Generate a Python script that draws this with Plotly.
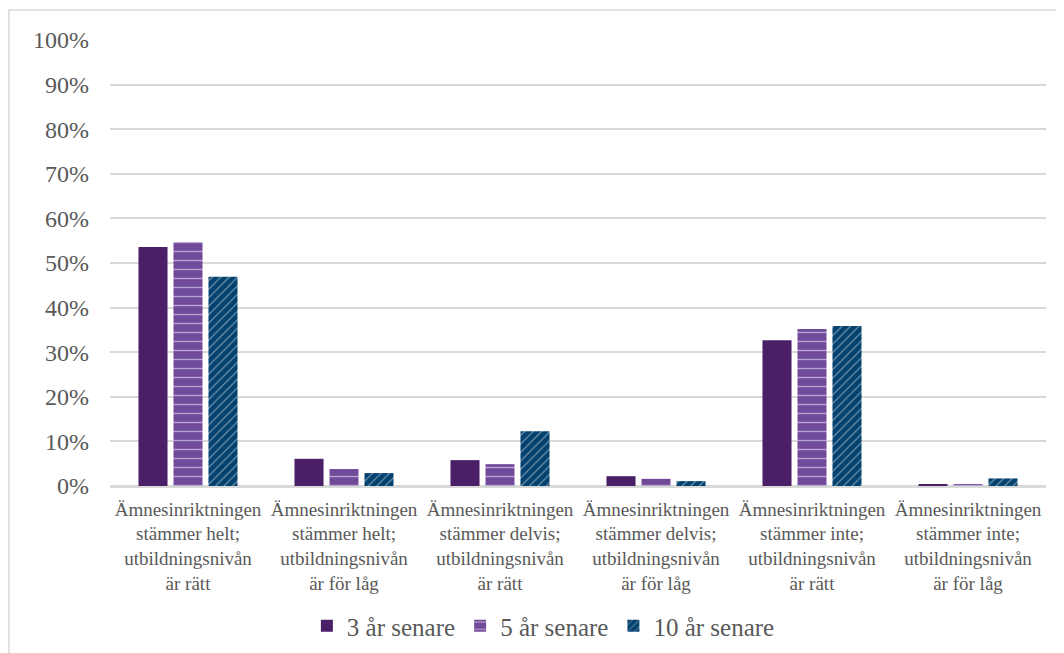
import plotly.graph_objects as go

categories = [
    "Ämnesinriktningen<br>stämmer helt;<br>utbildningsnivån<br>är rätt",
    "Ämnesinriktningen<br>stämmer helt;<br>utbildningsnivån<br>är för låg",
    "Ämnesinriktningen<br>stämmer delvis;<br>utbildningsnivån<br>är rätt",
    "Ämnesinriktningen<br>stämmer delvis;<br>utbildningsnivån<br>är för låg",
    "Ämnesinriktningen<br>stämmer inte;<br>utbildningsnivån<br>är rätt",
    "Ämnesinriktningen<br>stämmer inte;<br>utbildningsnivån<br>är för låg",
]
series_names = ["3 år senare", "5 år senare", "10 år senare"]
vals_3 = [0.536, 0.061, 0.058, 0.022, 0.327, 0.004]
vals_5 = [0.547, 0.038, 0.049, 0.016, 0.352, 0.004]
vals_10 = [0.469, 0.029, 0.123, 0.011, 0.359, 0.017]
y_ticks = [i / 10 for i in range(11)]
y_tick_labels = [f"{i*10}%" for i in range(11)]

colors = ["#4b1f68", "#714b9b", "#03426f"]
patterns = [
    dict(shape=""),
    dict(shape="-", fgcolor="white", size=9, solidity=0.15),
    dict(shape="/", fgcolor="white", size=6, solidity=0.18),
]

fig = go.Figure()
for name, vals, col, pat in zip(series_names, [vals_3, vals_5, vals_10], colors, patterns):
    fig.add_trace(go.Bar(
        x=categories, y=vals, name=name,
        marker=dict(color=col, line=dict(width=0), pattern=pat),
    ))

font_family = "Liberation Serif, DejaVu Serif, serif"
L, R, T, B = 102, 26, 32, 175
plot_w = 1064 - L - R
plot_h = 653 - T - B
fig.update_layout(
    width=1064, height=653,
    paper_bgcolor="white", plot_bgcolor="white",
    margin=dict(l=L, r=R, t=T, b=B),
    barmode="group", bargap=0.327, bargroupgap=0.17,
    font=dict(family=font_family, color="#595959"),
    legend=dict(orientation="h", x=0.463, xanchor="center", y=-140 / plot_h, yanchor="middle",
                font=dict(size=25, color="#595959"), traceorder="normal",
                itemwidth=30),
    showlegend=True,
    shapes=[dict(type="rect", xref="paper", yref="paper",
                 x0=(1 - L) / plot_w, x1=1.2, y0=-0.6, y1=1 + (T - 2) / plot_h,
                 line=dict(color="#d9d9d9", width=1.5), fillcolor="rgba(0,0,0,0)", layer="below")],
)
fig.update_yaxes(range=[0, 1.0], tickvals=y_ticks, ticktext=y_tick_labels,
                 showgrid=True, gridcolor="#d9d9d9", gridwidth=1.5,
                 zeroline=True, zerolinecolor="#d9d9d9", zerolinewidth=1.5,
                 tickfont=dict(size=24, color="#595959"), ticks="", ticklen=0,
                 ticklabelstandoff=20, showline=False)
fig.update_xaxes(tickfont=dict(size=19, color="#595959"), tickangle=0,
                 showline=True, linecolor="#d9d9d9", linewidth=1.5, ticks="",
                 ticklabelstandoff=5)

fig.write_html("out.html")
